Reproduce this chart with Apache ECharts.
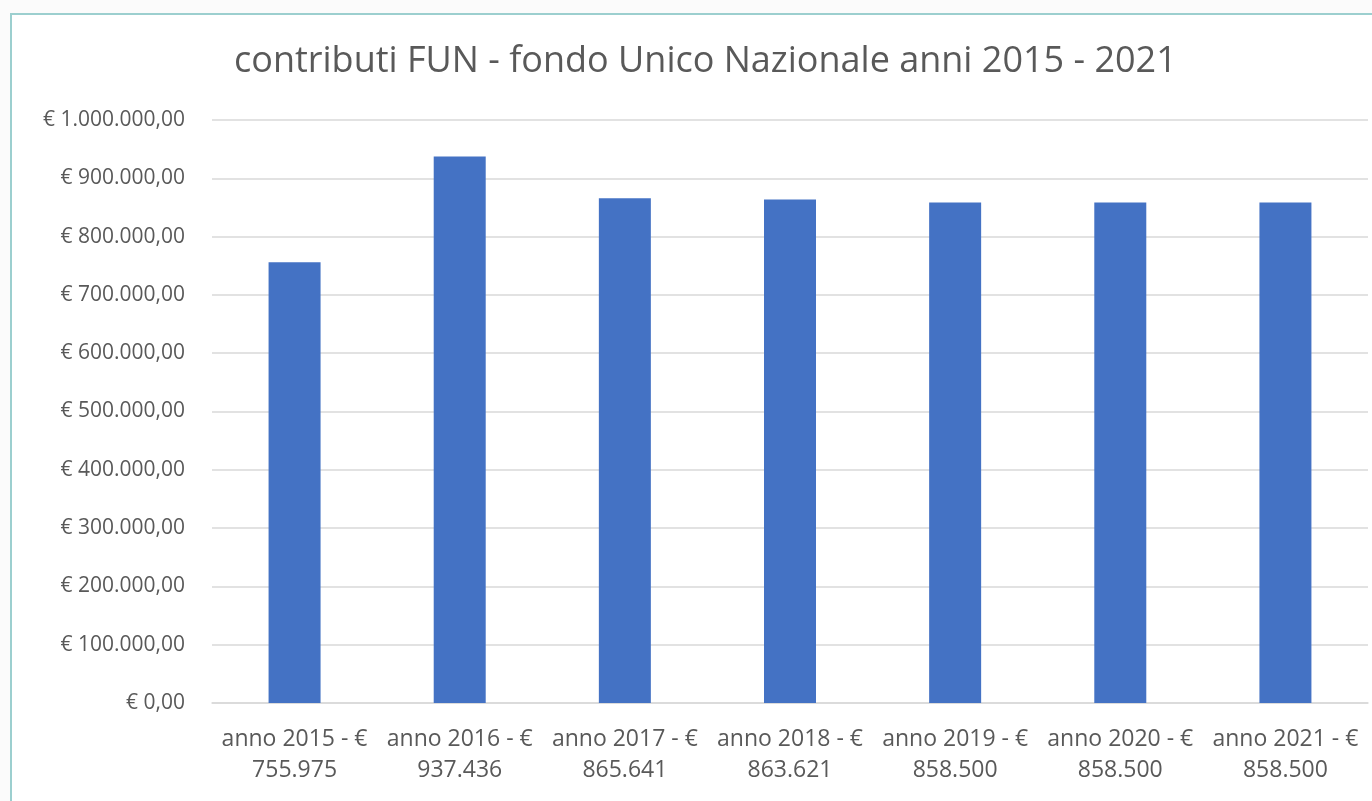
<!DOCTYPE html>
<html>
<head>
<meta charset="utf-8">
<script src="https://cdn.jsdelivr.net/npm/echarts@6/dist/echarts.min.js"></script>
<style>
	html, body { margin: 0; padding: 0; background: #fbfbfb; }
	#frame {
		position: absolute; left: 10px; top: 13px; right: 0; bottom: 0;
		border-top: 2px solid #9ccfcf; border-left: 2px solid #9ccfcf;
		background: #ffffff;
	}
	#chart { position: absolute; left: 0; top: 0; width: 1372px; height: 801px; }
</style>
</head>
<body>
<div id="frame"></div>
<div id="chart"></div>
<script>
var anni = ['2015', '2016', '2017', '2018', '2019', '2020', '2021'];
var importi = [755975, 937436, 865641, 863621, 858500, 858500, 858500];
var etichette = ['755.975', '937.436', '865.641', '863.621', '858.500', '858.500', '858.500'];

function euro(v) {
	var s = Math.round(v).toString().replace(/\B(?=(\d{3})+(?!\d))/g, '.');
	return '€ ' + s + ',00';
}

var categorie = anni.map(function(a, i) {
	return 'anno ' + a + ' - €\n' + etichette[i];
});

var chart = echarts.init(document.getElementById('chart'));
chart.setOption({
	title: {
		text: 'contributi FUN - fondo Unico Nazionale anni 2015 - 2021',
		left: 229,
		top: 39,
		textStyle: {
			fontFamily: 'Open Sans',
			fontSize: 36,
			fontWeight: 'normal',
			color: '#595959'
		}
	},
	grid: {
		left: 212,
		right: 4,
		top: 120,
		bottom: 98
	},
	xAxis: {
		type: 'category',
		data: categorie,
		axisTick: { show: false },
		axisLine: { lineStyle: { color: '#d9d9d9', width: 1.5 } },
		axisLabel: {
			interval: 0,
			margin: 21,
			fontFamily: 'Open Sans',
			fontSize: 23,
			lineHeight: 31,
			color: '#595959'
		}
	},
	yAxis: {
		type: 'value',
		min: 0,
		max: 1000000,
		interval: 100000,
		axisLine: { show: false },
		axisTick: { show: false },
		splitLine: { lineStyle: { color: '#d9d9d9', width: 1.5 } },
		axisLabel: {
			formatter: euro,
			margin: 27,
			fontFamily: 'Open Sans',
			fontSize: 21,
			color: '#595959'
		}
	},
	series: [{
		type: 'bar',
		data: importi,
		barWidth: 52,
		itemStyle: { color: '#4472c4' }
	}]
});
</script>
</body>
</html>
